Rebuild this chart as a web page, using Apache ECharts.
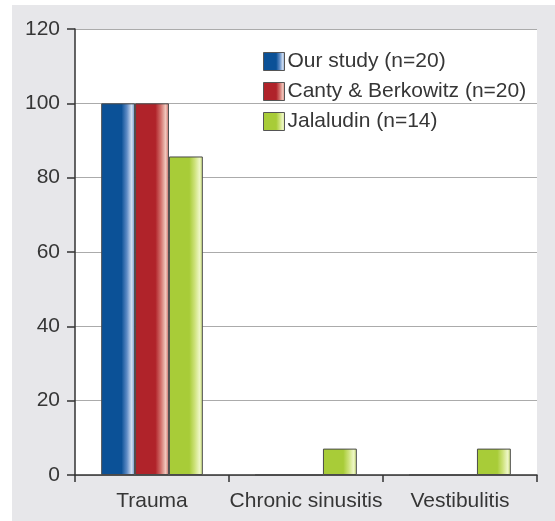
<!DOCTYPE html>
<html>
<head>
<meta charset="utf-8">
<script src="https://cdn.jsdelivr.net/npm/echarts@6/dist/echarts.min.js"></script>
<style>
  html, body { margin: 0; padding: 0; background: #ffffff; }
  #chart { width: 555px; height: 521px; }
</style>
</head>
<body>
<div id="chart"></div>
<script>
// Categories and percentages per study
const categories = ['Trauma', 'Chronic sinusitis', 'Vestibulitis'];
const seriesNames = ['Our study (n=20)', 'Canty & Berkowitz (n=20)', 'Jalaludin (n=14)'];
const ourStudy = [100, 0, 0];
const cantyBerkowitz = [100, 0, 0];
const jalaludin = [85.7, 7.1, 7.1];
const yTicks = [0, 20, 40, 60, 80, 100, 120];

// Horizontal shading: solid colour that brightens towards the right edge
function shade(base, mid, light) {
  return new echarts.graphic.LinearGradient(0, 0, 1, 0, [
    { offset: 0, color: base },
    { offset: 0.6, color: base },
    { offset: 0.76, color: mid },
    { offset: 0.9, color: light },
    { offset: 1, color: mid }
  ]);
}

const fills = [
  shade('#0b5197', '#5f8cc6', '#d3e0f2'),
  shade('#b0232a', '#d2706b', '#f0c7bc'),
  shade('#a8cc38', '#cde27a', '#edf6c4')
];
const values = [ourStudy, cantyBerkowitz, jalaludin];

const textColor = '#363636';
const fontFamily = 'Liberation Sans, Arial, sans-serif';

const chart = echarts.init(document.getElementById('chart'), null, { renderer: 'canvas' });

chart.setOption({
  backgroundColor: '#ffffff',
  animation: false,
  graphic: [{
    type: 'rect',
    z: -10,
    silent: true,
    shape: { x: 12, y: 5, width: 543, height: 516 },
    style: { fill: '#e7e7ea' }
  }],
  grid: {
    left: 75, right: 18, top: 29, bottom: 46,
    show: true,
    backgroundColor: '#ffffff',
    borderWidth: 0
  },
  legend: {
    orient: 'vertical',
    left: 258,
    top: 46,
    itemWidth: 21,
    itemHeight: 18,
    itemGap: 9,
    icon: 'rect',
    data: seriesNames,
    textStyle: { color: textColor, fontSize: 21, fontFamily: fontFamily, lineHeight: 20, padding: [0, 0, 0, -2] },
    itemStyle: { borderColor: '#555', borderWidth: 1 }
  },
  xAxis: {
    type: 'category',
    data: categories,
    axisLine: { lineStyle: { color: '#333', width: 1.5 } },
    axisTick: { show: true, length: 7, alignWithLabel: false, lineStyle: { color: '#333', width: 1.5 } },
    axisLabel: { color: textColor, fontSize: 21, fontFamily: fontFamily, margin: 16, interval: 0 },
    splitLine: { show: false }
  },
  yAxis: {
    type: 'value',
    min: yTicks[0],
    max: yTicks[yTicks.length - 1],
    interval: 20,
    axisLine: { show: true, lineStyle: { color: '#333', width: 1.5 } },
    axisTick: { show: true, length: 8, lineStyle: { color: '#333', width: 1.5 } },
    axisLabel: { color: textColor, fontSize: 21, fontFamily: fontFamily, margin: 15 },
    splitLine: { show: true, lineStyle: { color: '#ababab', width: 1 } }
  },
  series: seriesNames.map((name, i) => ({
    name: name,
    type: 'bar',
    data: values[i],
    barGap: '0%',
    barCategoryGap: '34%',
    itemStyle: { color: fills[i], borderColor: '#4a4a4a', borderWidth: 1 }
  }))
});
</script>
</body>
</html>
